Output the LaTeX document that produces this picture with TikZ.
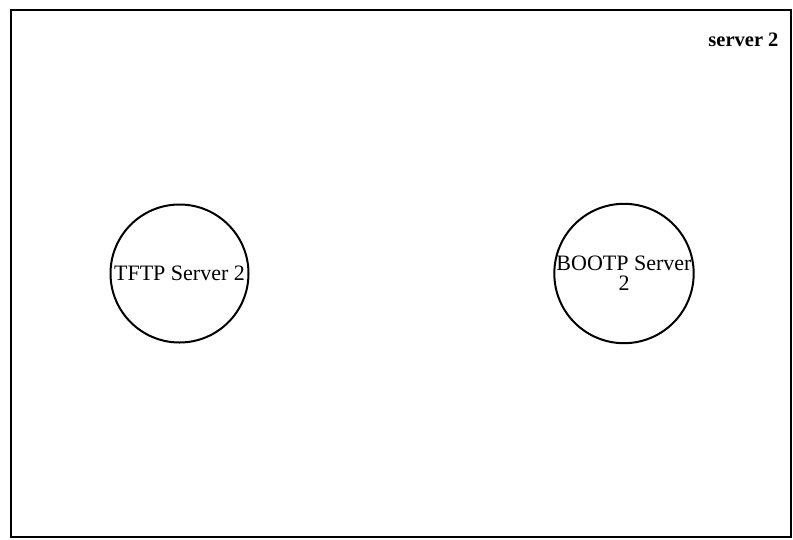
\documentclass[tikz,border=0pt]{standalone}
\usepackage{fontspec}
\setmainfont{Liberation Serif}
\begin{document}
\begin{tikzpicture}[x=1pt,y=-1pt,
  server/.style={draw=black,line width=2pt,circle,minimum size=138pt,inner sep=0pt,
    font=\fontsize{22}{20}\selectfont,align=center},
  frame/.style={draw=black,line width=2pt}]
\useasboundingbox (0,0) rectangle (793,539);
\node[frame,minimum width=780pt,minimum height=527pt,inner sep=0pt] (box) at (401,273.5) {};
\node[anchor=base east,font=\fontsize{20.5}{20}\selectfont\bfseries] (lbl) at (782,46) {server 2};
\node[server] (tftp) at (179.5,273.5) {TFTP Server 2};
\node[server] (bootp) at (624,273.5) {BOOTP Server\\2};
\end{tikzpicture}
\end{document}
